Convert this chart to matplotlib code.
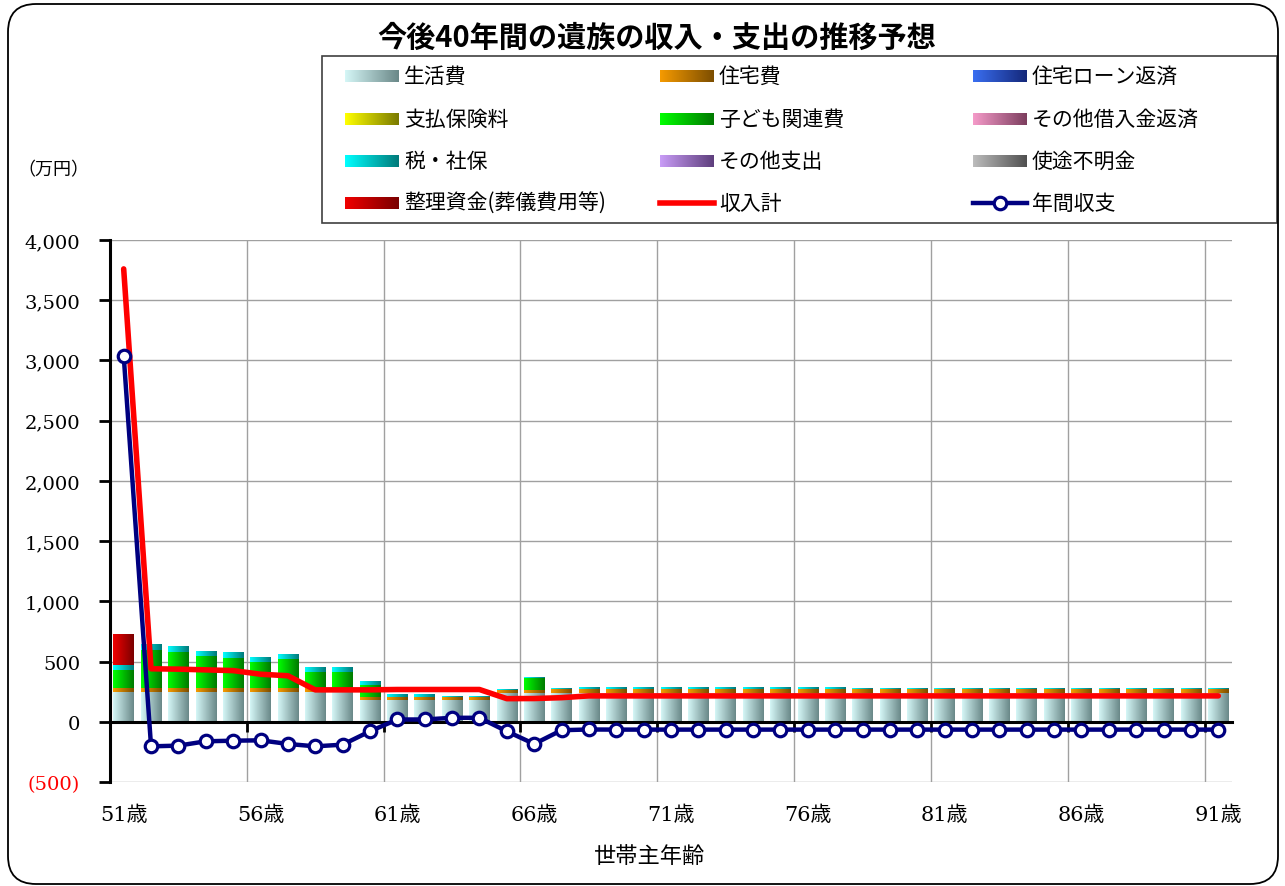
import numpy as np
import matplotlib
matplotlib.use("Agg")
import matplotlib.pyplot as plt
from matplotlib.patches import Rectangle, FancyBboxPatch
from matplotlib.colors import LinearSegmentedColormap, to_rgb
from matplotlib.transforms import IdentityTransform

# ---------------- data ----------------
ages = list(range(51, 92))
age_labels = [f"{a}歳" for a in ages]

living = [250, 250, 250, 250, 250, 250, 250, 250, 250, 180,
          180, 180, 180, 180, 237, 237, 240, 240, 240, 240,
          240, 240, 240, 240, 240, 240, 240, 240, 240, 240,
          240, 240, 240, 240, 240, 240, 240, 240, 240, 240, 240]
housing = [30, 30, 30, 30, 32, 30, 30, 30, 30, 28,
           28, 28, 28, 28, 28, 28, 28, 30, 30, 30,
           30, 30, 30, 30, 30, 30, 30, 30, 30, 30,
           30, 30, 30, 30, 30, 30, 30, 30, 30, 30, 30]
home_loan = [0] * 41
insurance = [0] * 41
child = [150, 320, 300, 270, 250, 215, 240, 135, 130, 95,
         0, 0, 0, 0, 0, 100, 0, 0, 0, 0,
         0, 0, 0, 0, 0, 0, 0, 0, 0, 0,
         0, 0, 0, 0, 0, 0, 0, 0, 0, 0, 0]
other_loans = [0] * 41
tax = [45, 45, 42, 40, 45, 40, 40, 40, 35, 25,
       23, 23, 8, 8, 8, 8, 8, 10, 10, 10,
       10, 10, 10, 10, 10, 10, 10, 5, 5, 5,
       5, 5, 5, 5, 5, 5, 5, 5, 5, 5, 5]
other_exp = [0] * 41
unknown = [0] * 41
settlement = [255, 0, 0, 0, 0, 0, 0, 0, 0, 0,
              0, 0, 0, 0, 0, 0, 0, 0, 0, 0,
              0, 0, 0, 0, 0, 0, 0, 0, 0, 0,
              0, 0, 0, 0, 0, 0, 0, 0, 0, 0, 0]
income = [3760, 440, 437, 431, 425, 395, 382, 265, 265, 265,
          268, 268, 268, 268, 192, 193, 200, 215, 215, 215,
          215, 215, 215, 215, 215, 215, 215, 215, 215, 215,
          215, 215, 215, 215, 215, 215, 215, 215, 215, 215, 215]
balance = [3040, -204, -198, -162, -157, -154, -184, -204, -190, -79,
           19, 19, 33, 33, -79, -184, -70, -64, -65, -65,
           -65, -65, -65, -65, -65, -65, -65, -65, -65, -65,
           -65, -65, -65, -65, -65, -65, -65, -65, -65, -65, -65]

series_names = ["生活費", "住宅費", "住宅ローン返済", "支払保険料", "子ども関連費",
                "その他借入金返済", "税・社保", "その他支出", "使途不明金", "整理資金(葬儀費用等)"]
series_vals = [living, housing, home_loan, insurance, child,
               other_loans, tax, other_exp, unknown, settlement]
grad_colors = [("#d4f6f6", "#6a8888"), ("#f59a00", "#7d4e00"), ("#3a6ef0", "#14287a"),
               ("#ffff00", "#7a7a00"), ("#00ff00", "#007a00"), ("#f49ac8", "#7d3e5e"),
               ("#00ffff", "#007a7a"), ("#c89cf6", "#5e3f7d"), ("#bcbcbc", "#505050"),
               ("#f00000", "#7a0000")]
income_name = "収入計"
balance_name = "年間収支"

W, H = 1285, 887
fig = plt.figure(figsize=(W / 100, H / 100), dpi=100)
fig.patch.set_facecolor("white")

def fx(px):
    return px / W

def fy(py):
    return 1 - py / H

ax = fig.add_axes([fx(110), fy(783), fx(1232) - fx(110), fy(241) - fy(783)])

x = np.arange(len(ages))
bw = 0.75
bottom = np.zeros(len(ages))
for vals, (c1, c2) in zip(series_vals, grad_colors):
    vals = np.array(vals, dtype=float)
    bars = ax.bar(x, vals, width=bw, bottom=bottom, color=c1, edgecolor="none", zorder=2)
    cmap = LinearSegmentedColormap.from_list("g", [c1, c2])
    grad = np.linspace(0, 1, 64).reshape(1, -1)
    for p in bars.patches:
        h = p.get_height()
        if h <= 0:
            continue
        x0, y0, w = p.get_x(), p.get_y(), p.get_width()
        ax.imshow(grad, extent=[x0, x0 + w, y0, y0 + h], cmap=cmap, aspect="auto",
                  interpolation="bilinear", zorder=2.1)
        p.set_visible(False)
    bottom = bottom + vals

ax.plot(x, balance, color="#000080", lw=3.2, marker="o", ms=9, mfc="white",
        mec="#000080", mew=2.3, zorder=5)
ax.plot(x, income, color="#ff0000", lw=4, zorder=4, solid_capstyle="round")

ax.set_xlim(-0.5, len(ages) - 0.5)
ax.set_ylim(-500, 4000)

# y axis
yt = np.arange(-500, 4001, 500)
ax.set_yticks(yt)
ax.set_yticklabels([f"({-v:,})" if v < 0 else f"{v:,}" for v in yt],
                   family="DejaVu Serif", fontsize=14)
ax.get_yticklabels()[0].set_color("#ff0000")
ax.tick_params(axis="y", direction="out", length=8, width=2, pad=13.5, color="black")
ax.yaxis.grid(True, color="#a0a0a0", lw=1)

# x axis at zero with boundary ticks every 5 categories
bounds = np.arange(4.5, len(ages) - 0.5, 5)
ax.set_xticks(bounds)
ax.set_xticklabels([""] * len(bounds))
ax.tick_params(axis="x", direction="out", length=7, width=2, color="black")
ax.xaxis.grid(True, color="#a0a0a0", lw=1)
ax.set_axisbelow(True)
ax.spines["bottom"].set_position(("data", 0))
ax.spines["bottom"].set_linewidth(2.2)
ax.spines["bottom"].set_zorder(3)
ax.spines["left"].set_linewidth(2.2)
ax.spines["top"].set_visible(False)
ax.spines["right"].set_visible(False)

for i in range(0, len(ages), 5):
    ax.text(x[i], (783 - 815) / (783 - 241), age_labels[i], transform=ax.get_xaxis_transform(),
            ha="center", va="center", fontsize=15, family=["DejaVu Serif", "Noto Sans CJK JP"])

fig.text(fx(650), fy(857), "世帯主年齢", ha="center", va="center", fontsize=16,
         family="Noto Sans CJK JP")
fig.text(fx(53), fy(170), "（万円）", ha="center", va="center", fontsize=13,
         family="Noto Sans CJK JP")
fig.text(fx(657), fy(38), "今後40年間の遺族の収入・支出の推移予想", ha="center", va="center",
         fontsize=21, fontweight="bold", family="Noto Sans CJK JP")

# ---------------- legend (drawn manually in pixel layout) ----------------
fig.add_artist(Rectangle((fx(322), fy(224)), fx(1277) - fx(322), fy(57) - fy(224),
                         transform=fig.transFigure, fill=False, ec="#404040", lw=1.2))
col_x = [345, 660, 973]
row_y = [77, 120, 162, 204]
hw, hh = 54, 12
entries = [(n, "bar", c) for n, c in zip(series_names, grad_colors)]
entries += [(income_name, "income", None), (balance_name, "balance", None)]
for k, (name, kind, cols) in enumerate(entries):
    r, c = divmod(k, 3)
    px, py = col_x[c], row_y[r]
    if kind == "bar":
        c1, c2 = np.array(to_rgb(cols[0])), np.array(to_rgb(cols[1]))
        t = np.linspace(0, 1, hw).reshape(1, -1, 1)
        img = c1 * (1 - t) + c2 * t
        img = np.repeat(img, hh, axis=0)
        fig.figimage(img, xo=px, yo=H - py - hh // 2, zorder=5)
    elif kind == "income":
        fig.add_artist(plt.Line2D([fx(px), fx(px + hw)], [fy(py), fy(py)], color="#ff0000",
                                  lw=4, transform=fig.transFigure))
    else:
        fig.add_artist(plt.Line2D([fx(px), fx(px + hw)], [fy(py), fy(py)], color="#000080",
                                  lw=3.2, transform=fig.transFigure))
        fig.add_artist(plt.Line2D([fx(px + hw / 2)], [fy(py)], marker="o", ms=9, mfc="white",
                                  mec="#000080", mew=2.3, transform=fig.transFigure))
    fig.text(fx(px + hw + 5), fy(py), name, ha="left", va="center", fontsize=15,
             family="Noto Sans CJK JP")

# rounded figure border
fig.add_artist(FancyBboxPatch((8, 2), 1270, 880, boxstyle="round,pad=0,rounding_size=28",
                              transform=IdentityTransform(), fill=False, ec="black", lw=1.3))

fig.savefig("out.png", dpi=100)
